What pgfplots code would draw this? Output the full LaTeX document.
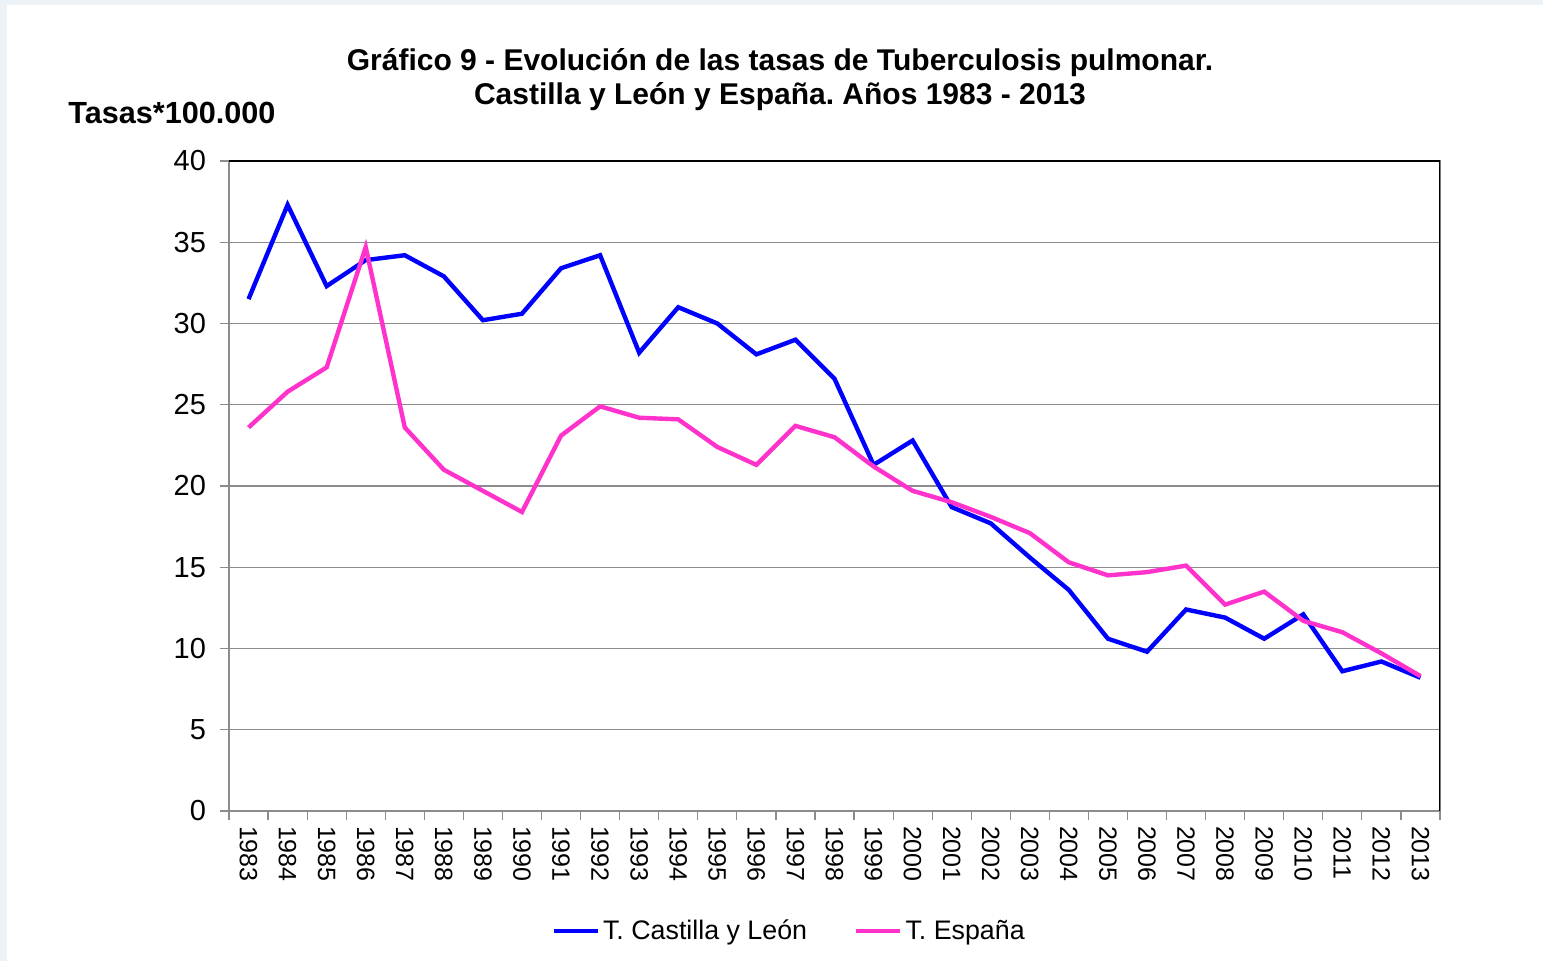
\documentclass[border=0pt]{standalone}
\usepackage{pgfplots}
\pgfplotsset{compat=1.18}
\usepackage{fontspec}
\setmainfont{Liberation Sans}
\frenchspacing
\definecolor{cyl}{RGB}{0,0,255}
\definecolor{esp}{RGB}{255,51,204}
\definecolor{gridg}{RGB}{140,140,140}
\definecolor{slidebg}{RGB}{236,242,246}
\begin{document}
\begin{tikzpicture}
\path[use as bounding box] (0,0) rectangle (771.5pt,480.5pt);
\fill[slidebg] (0,0) rectangle (771.5pt,480.5pt);
\fill[white] (3.5pt,0) rectangle (771.5pt,478pt);
\begin{axis}[
  at={(114.5pt,75pt)}, anchor=south west,
  width=605.5pt, height=325pt, scale only axis,
  xmin=1982.5, xmax=2013.5, ymin=0, ymax=40,
  ytick={0,5,...,40},
  xtick={1983,...,2013},
  xticklabels={1983,1984,1985,1986,1987,1988,1989,1990,1991,1992,1993,1994,1995,1996,1997,1998,1999,2000,2001,2002,2003,2004,2005,2006,2007,2008,2009,2010,2011,2012,2013},
  x tick label style={rotate=-90, anchor=west, font=\fontsize{12.5}{14}\selectfont},
  y tick label style={font=\fontsize{14.5}{17}\selectfont},
  /pgf/number format/assume math mode=true,
  minor xtick={1982.5,1983.5,...,2013.5},
  major tick length=4.5pt,
  minor tick length=4.5pt,
  major x tick style={draw=none},
  tick align=outside,
  ymajorgrids, grid style={gridg, line width=0.6pt},
  tick style={gridg, line width=0.6pt},
  axis line style={gridg, line width=0.6pt},
  xtick pos=bottom, ytick pos=left,
  xticklabel shift=-0.5pt, yticklabel shift=3.5pt,
  legend style={at={(0.463,-0.185)}, anchor=center, draw=none, legend columns=2,
    font=\fontsize{13.4}{15}\selectfont, /tikz/every even column/.append style={column sep=22pt},
    nodes={inner xsep=1.5pt}},
  legend image code/.code={\draw[#1, line width=2.2pt] (0pt,0pt) -- (22pt,0pt);},
]
\addplot[cyl, line width=2.2pt] coordinates {
(1983,31.5)(1984,37.3)(1985,32.3)(1986,33.9)(1987,34.2)(1988,32.9)(1989,30.2)(1990,30.6)
(1991,33.4)(1992,34.2)(1993,28.2)(1994,31.0)(1995,30.0)(1996,28.1)(1997,29.0)(1998,26.6)
(1999,21.3)(2000,22.8)(2001,18.7)(2002,17.7)(2003,15.6)(2004,13.6)(2005,10.6)(2006,9.8)
(2007,12.4)(2008,11.9)(2009,10.6)(2010,12.1)(2011,8.6)(2012,9.2)(2013,8.2)};
\addlegendentry{T. Castilla y León}
\addplot[esp, line width=2.2pt] coordinates {
(1983,23.6)(1984,25.8)(1985,27.3)(1986,34.7)(1987,23.6)(1988,21.0)(1989,19.7)(1990,18.4)
(1991,23.1)(1992,24.9)(1993,24.2)(1994,24.1)(1995,22.4)(1996,21.3)(1997,23.7)(1998,23.0)
(1999,21.2)(2000,19.7)(2001,19.0)(2002,18.1)(2003,17.1)(2004,15.3)(2005,14.5)(2006,14.7)
(2007,15.1)(2008,12.7)(2009,13.5)(2010,11.7)(2011,11.0)(2012,9.7)(2013,8.3)};
\addlegendentry{T. España}
\draw[black, line width=0.7pt] (rel axis cs:0,1) -- (rel axis cs:1,1) -- (rel axis cs:1,0);
\end{axis}
\node[align=center, font=\bfseries\fontsize{15}{17}\selectfont] at (390pt,440.5pt)
  {Gráfico 9 - Evolución de las tasas de Tuberculosis pulmonar.\\Castilla y León y España. Años 1983 - 2013};
\node[anchor=west, font=\bfseries\fontsize{15.3}{17}\selectfont, inner sep=0pt] at (34pt,424pt) {Tasas*100.000};
\end{tikzpicture}
\end{document}
